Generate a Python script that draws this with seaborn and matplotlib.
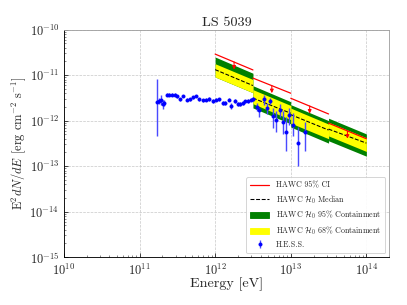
import numpy as np
import pandas as pd
import matplotlib
matplotlib.use("Agg")
import matplotlib.pyplot as plt
import seaborn as sns
from matplotlib.lines import Line2D
from matplotlib.patches import Patch

# ---------------- data ----------------
# HAWC energy bins (eV)
bin_lo = [1.0e12, 3.162e12, 1.0e13, 3.162e13]
bin_hi = [3.162e12, 1.0e13, 3.162e13, 1.0e14]
# values at left / right bin edges (erg cm^-2 s^-1)
ci95_left = [2.9e-11, 8.6e-12, 3.1e-12, 8.8e-13]
ci95_right = [1.3e-11, 4.0e-12, 1.4e-12, 4.0e-13]
med_left = [1.32e-11, 3.13e-12, 1.35e-12, 6.5e-13]
med_right = [5.9e-12, 1.45e-12, 6.2e-13, 3.2e-13]
g_hi_left = [2.5e-11, 5.85e-12, 2.24e-12, 1.13e-12]
g_hi_right = [1.1e-11, 2.6e-12, 1.0e-12, 5.1e-13]
y_hi_left = [1.78e-11, 4.8e-12, 1.88e-12, 9.2e-13]
y_hi_right = [8.0e-12, 2.15e-12, 8.4e-13, 4.2e-13]
y_lo_left = [9.1e-12, 2.35e-12, 8.8e-13, 4.6e-13]
y_lo_right = [4.1e-12, 1.05e-12, 4.0e-13, 2.1e-13]
g_lo_left = [9.1e-12, 1.9e-12, 7.2e-13, 3.6e-13]
g_lo_right = [4.1e-12, 8.5e-13, 3.2e-13, 1.65e-13]
# upper-limit arrows (bin log-centres)
ul_energy = [1.78e12, 5.62e12, 1.78e13, 5.62e13]
ul_flux = [1.95e-11, 5.9e-12, 2.1e-12, 5.9e-13]

# H.E.S.S. points
hess_E = [1.72e11, 1.83e11, 1.95e11, 2.03e11, 2.11e11,
          2.29e11, 2.48e11, 2.69e11, 2.92e11, 3.16e11, 3.44e11, 3.80e11,
          4.22e11, 4.68e11, 5.07e11, 5.60e11, 6.17e11, 6.87e11, 7.59e11,
          8.41e11, 9.33e11, 1.03e12, 1.14e12, 1.26e12, 1.37e12, 1.51e12,
          1.64e12, 1.82e12, 1.98e12, 2.14e12, 2.33e12, 2.51e12, 2.74e12,
          2.97e12, 3.21e12,
          3.57e12, 3.86e12, 4.37e12, 4.84e12, 5.35e12, 5.80e12, 6.43e12,
          7.10e12, 7.90e12, 8.70e12, 9.60e12, 1.07e13, 1.23e13, 1.55e13]
hess_F = [2.55e-12, 2.73e-12, 2.87e-12, 2.34e-12, 2.43e-12,
          3.70e-12, 3.70e-12, 3.70e-12, 3.75e-12, 3.40e-12, 2.97e-12, 3.47e-12,
          2.87e-12, 2.97e-12, 3.29e-12, 3.47e-12, 2.97e-12, 2.77e-12, 2.87e-12,
          3.00e-12, 2.73e-12, 2.87e-12, 2.97e-12, 2.50e-12, 2.50e-12, 2.87e-12,
          2.12e-12, 2.73e-12, 2.34e-12, 2.34e-12, 2.50e-12, 2.64e-12, 2.73e-12,
          2.87e-12, 2.97e-12,
          2.04e-12, 1.67e-12, 2.97e-12, 1.88e-12, 2.73e-12, 1.28e-12, 1.05e-12,
          1.74e-12, 9.1e-13, 5.7e-13, 1.35e-12, 8.1e-13, 3.3e-13, 5.5e-13]
hess_up = [8.2e-12, 3.2e-12, 3.6e-12, 2.9e-12, 2.8e-12,
           3.95e-12, 3.95e-12, 3.95e-12, 4.0e-12, 3.65e-12, 3.2e-12, 3.7e-12,
           3.1e-12, 3.2e-12, 3.5e-12, 3.7e-12, 3.2e-12, 3.0e-12, 3.1e-12,
           3.25e-12, 2.95e-12, 3.1e-12, 3.2e-12, 2.75e-12, 2.75e-12, 3.1e-12,
           2.45e-12, 2.95e-12, 2.6e-12, 2.6e-12, 2.75e-12, 2.9e-12, 2.95e-12,
           3.2e-12, 3.3e-12,
           2.5e-12, 1.9e-12, 3.7e-12, 2.4e-12, 3.2e-12, 1.9e-12, 1.6e-12,
           2.3e-12, 1.6e-12, 1.2e-12, 1.9e-12, 1.5e-12, 7.4e-13, 9.5e-13]
hess_down = [4.7e-13, 2.3e-12, 2.2e-12, 1.8e-12, 2.1e-12,
             3.45e-12, 3.45e-12, 3.45e-12, 3.5e-12, 3.15e-12, 2.75e-12, 3.25e-12,
             2.65e-12, 2.75e-12, 3.05e-12, 3.25e-12, 2.75e-12, 2.55e-12, 2.65e-12,
             2.75e-12, 2.5e-12, 2.65e-12, 2.75e-12, 2.25e-12, 2.25e-12, 2.65e-12,
             1.8e-12, 2.5e-12, 2.1e-12, 2.1e-12, 2.25e-12, 2.4e-12, 2.5e-12,
             2.65e-12, 2.65e-12,
             1.6e-12, 1.2e-12, 2.24e-12, 1.4e-12, 2.3e-12, 6.8e-13, 5.5e-13,
             1.2e-12, 5.0e-13, 2.1e-13, 8.0e-13, 4.5e-13, 9.8e-14, 2.1e-13]

x_ticks = [1e10, 1e11, 1e12, 1e13, 1e14]
y_ticks = [1e-15, 1e-14, 1e-13, 1e-12, 1e-11, 1e-10]

labels = ["HAWC 95% CI", r"HAWC $\mathcal{H}_0$ Median",
          r"HAWC $\mathcal{H}_0$ 95% Containment",
          r"HAWC $\mathcal{H}_0$ 68% Containment", "H.E.S.S."]

# ---------------- style ----------------
sns.set_theme(style="ticks")
plt.rcParams.update({
    "font.family": ["serif"],
    "font.serif": ["cmr10", "DejaVu Serif"],
    "mathtext.fontset": "cm",
    "axes.formatter.use_mathtext": True,
    "axes.unicode_minus": False,
})

fig = plt.figure(figsize=(6.4, 4.8), dpi=63.6)
ax = fig.add_axes([0.157, 0.157, 0.799, 0.745])
ax.set_xscale("log")
ax.set_yscale("log")

for i in range(len(bin_lo)):
    xs = [bin_lo[i], bin_hi[i]]
    ax.fill_between(xs, [g_lo_left[i], g_lo_right[i]], [g_hi_left[i], g_hi_right[i]],
                    color="green", lw=0, zorder=2)
    ax.fill_between(xs, [y_lo_left[i], y_lo_right[i]], [y_hi_left[i], y_hi_right[i]],
                    color="yellow", lw=0, zorder=3)
    sns.lineplot(x=xs, y=[med_left[i], med_right[i]], ax=ax, color="black",
                 linestyle="--", lw=1.2, zorder=4)
    sns.lineplot(x=xs, y=[ci95_left[i], ci95_right[i]], ax=ax, color="red",
                 lw=1.4, zorder=5)

for xe, yf in zip(ul_energy, ul_flux):
    ax.annotate("", xy=(xe, yf * 0.68), xytext=(xe, yf * 1.0),
                arrowprops=dict(arrowstyle="-|>", color="red", lw=1.2,
                                mutation_scale=8, shrinkA=0, shrinkB=0),
                zorder=6)

E = np.array(hess_E)
F = np.array(hess_F)
yerr = np.vstack([F - np.array(hess_down), np.array(hess_up) - F])
ax.errorbar(E, F, yerr=yerr, fmt="o", color="blue", ms=3.5, mec="blue",
            ecolor="#4a4aff", elinewidth=1.6, capsize=0, zorder=7)

ax.set_xlim(1e10, 2e14)
ax.set_ylim(1e-15, 1e-10)
ax.set_xticks(x_ticks)
ax.set_yticks(y_ticks)
ax.grid(True, which="major", color="#c8c8c8", linestyle="--", lw=0.8)
ax.tick_params(axis="both", which="major", labelsize=14, direction="in",
               length=4, width=0.8, color="black")
ax.tick_params(axis="x", which="major", pad=6)
ax.tick_params(axis="y", which="major", pad=5)
ax.tick_params(axis="both", which="minor", direction="in", length=2, width=0.6)
ax.spines["left"].set_color("black")
ax.spines["bottom"].set_color("black")
ax.spines["top"].set_color("#a0a0a0")
ax.spines["right"].set_color("#a0a0a0")
for s in ax.spines.values():
    s.set_linewidth(1.0)

ax.set_xlabel("Energy [eV]", fontsize=16, labelpad=0)
ax.set_ylabel(r"E$^2dN/dE$ [erg cm$^{-2}$ s$^{-1}$]", fontsize=14, labelpad=2)
ax.set_title("LS 5039", fontsize=16, pad=4)

handles = [
    Line2D([], [], color="red", lw=1.4),
    Line2D([], [], color="black", lw=1.2, linestyle="--"),
    Patch(facecolor="green", edgecolor="green"),
    Patch(facecolor="yellow", edgecolor="yellow"),
    ax.errorbar([], [], yerr=[], fmt="o", color="blue", ms=3.5, ecolor="#4a4aff"),
]
leg = ax.legend(handles, labels, loc="lower right", fontsize=9, frameon=True,
                framealpha=0.9, edgecolor="#cccccc", borderpad=0.5,
                labelspacing=0.45, handlelength=2.4)

fig.savefig("out.png", dpi=63.6)
